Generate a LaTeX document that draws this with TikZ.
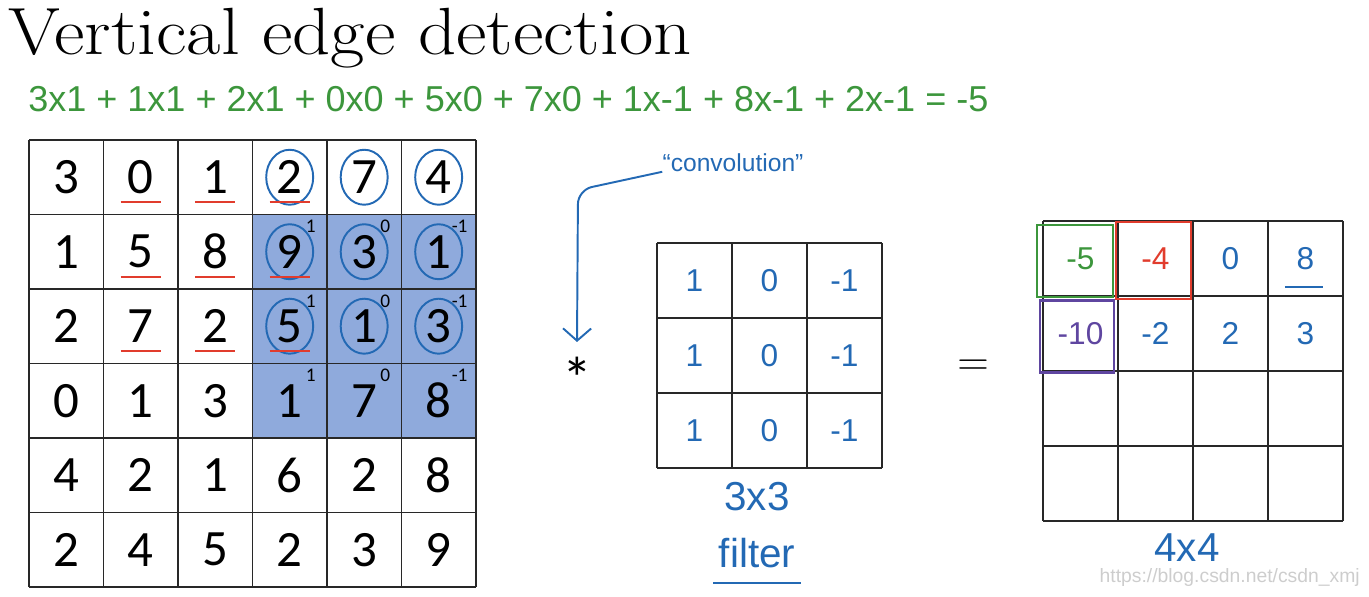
\documentclass[tikz,border=0pt]{standalone}
\usepackage{fontspec}
\newfontfamily\cellfont{Carlito}
\newfontfamily\handfont{Liberation Sans}
\usetikzlibrary{arrows.meta, positioning, calc}
\definecolor{penblue}{RGB}{35,105,180}
\definecolor{pengreen}{RGB}{60,150,60}
\definecolor{penred}{RGB}{225,60,45}
\definecolor{penpurple}{RGB}{95,70,160}
\definecolor{patchblue}{RGB}{143,170,220}
\definecolor{gridline}{RGB}{40,40,40}
\definecolor{watermark}{RGB}{205,205,205}

\begin{document}
\begin{tikzpicture}[x=0.02cm, y=-0.02cm,
  num/.style={font=\cellfont\fontsize{29}{30}\selectfont, text=black, inner sep=0pt},
  wgt/.style={font=\cellfont\fontsize{11}{12}\selectfont, inner sep=0pt},
  pen/.style={font=\handfont\fontsize{18}{20}\selectfont, text=penblue, inner sep=0pt},
  caption/.style={pen, font=\handfont\fontsize{23}{24}\selectfont},
  ring/.style={draw=penblue, line width=1.1pt},
  redline/.style={draw=penred, line width=1.3pt},
  box/.style={line width=1.4pt},
  cellline/.style={draw=gridline, line width=0.8pt},
  arr/.style={-{Straight Barb[length=7pt,width=16pt]}, draw=penblue, line width=1.1pt}
]
\useasboundingbox (0,0) rectangle (1369,597);

% title and the sum
\node[anchor=base west, inner sep=0pt, font=\fontsize{38}{40}\selectfont] (title) at (8,55) {\scalebox{1.12}[1]{Vertical edge detection}};
\node[anchor=west, inner sep=0pt, text=pengreen, font=\handfont\fontsize{20.5}{22}\selectfont] (sum) at (28,99)
  {3x1 + 1x1 + 2x1 + 0x0 + 5x0 + 7x0 + 1x-1 + 8x-1 + 2x-1 = -5};

% 6x6 image
\begin{scope}[shift={(29,140)}, x=1.49cm, y=-1.49cm]
  \fill[patchblue] (3,1) rectangle (6,4);
  \foreach \i in {0,...,6} {
    \draw[cellline] (\i,0) -- (\i,6);
    \draw[cellline] (0,\i) -- (6,\i);
  }
  \foreach \row [count=\r] in {{3,0,1,2,7,4},{1,5,8,9,3,1},{2,7,2,5,1,3},{0,1,3,1,7,8},{4,2,1,6,2,8},{2,4,5,2,3,9}}
    \foreach \v [count=\c] in \row
      \node[num] (a-\r-\c) at (\c-0.5,\r-0.5) {\v};
\end{scope}

% filter weights on the shaded patch
\foreach \r in {2,3,4}
  \foreach \c/\w in {4/1,5/0,6/-1}
    \node[wgt] (w-\r-\c) at ($(a-\r-\c)+(0.42cm,0.5cm)$) {\w};

% circled entries
\foreach \r/\c in {1/4,1/5,1/6,2/4,2/5,2/6,3/4,3/5,3/6}
  \draw[ring] (a-\r-\c) ellipse [x radius=0.47cm, y radius=0.55cm];

% red underlines
\foreach \r/\c in {1/2,1/3,1/4,2/2,2/3,2/4,3/2,3/3,3/4}
  \draw[redline] ($(a-\r-\c)+(-0.4cm,-0.5cm)$) -- ++(0.8cm,0);

% 3x3 filter
\begin{scope}[shift={(657,243)}, x=1.5cm, y=-1.5cm]
  \foreach \i in {0,...,3} {
    \draw[cellline] (\i,0) -- (\i,3);
    \draw[cellline] (0,\i) -- (3,\i);
  }
  \foreach \r in {1,2,3}
    \foreach \v [count=\c] in {1,0,-1}
      \node[pen] (f-\r-\c) at (\c-0.5,\r-0.5) {\v};
\end{scope}
\node[caption] (size3) at (757,497) {3x3};
\node[caption] (filt) at (757,553) {filter};
\draw[penblue, line width=1.2pt] ($(filt.south west)+(-0.1cm,-0.3cm)$) -- ($(filt.south east)+(0.1cm,-0.3cm)$);

% operators
\node[inner sep=0pt, font=\cellfont\fontsize{34}{34}\selectfont] (star) at (577,378) {*};
\node[inner sep=0pt, font=\fontsize{34}{34}\selectfont] (eq) at (973,368) {$=$};

% convolution note
\node[pen, font=\handfont\fontsize{14}{16}\selectfont] (conv) at (733,163) {“convolution”};
\coordinate (bend) at (578,190);
\coordinate (tip) at (577,342);
\draw[arr, rounded corners=8pt] (conv.base west) -- (bend) -- (tip);

% 4x4 output
\begin{scope}[shift={(1043,221)}, x=1.5cm, y=-1.5cm]
  \foreach \i in {0,...,4} {
    \draw[cellline] (\i,0) -- (\i,4);
    \draw[cellline] (0,\i) -- (4,\i);
  }
  \node[pen, text=pengreen] (o-1-1) at (0.5,0.5) {-5};
  \node[pen, text=penred] (o-1-2) at (1.5,0.5) {-4};
  \node[pen] (o-1-3) at (2.5,0.5) {0};
  \node[pen] (o-1-4) at (3.5,0.5) {8};
  \node[pen, text=penpurple] (o-2-1) at (0.5,1.5) {-10};
  \node[pen] (o-2-2) at (1.5,1.5) {-2};
  \node[pen] (o-2-3) at (2.5,1.5) {2};
  \node[pen] (o-2-4) at (3.5,1.5) {3};
\end{scope}
\draw[box, draw=pengreen] ($(o-1-1)+(-0.87cm,0.67cm)$) rectangle ($(o-1-1)+(0.65cm,-0.77cm)$);
\draw[box, draw=penred] ($(o-1-2)+(-0.79cm,0.73cm)$) rectangle ($(o-1-2)+(0.71cm,-0.81cm)$);
\draw[box, draw=penpurple] ($(o-2-1)+(-0.81cm,0.66cm)$) rectangle ($(o-2-1)+(0.67cm,-0.78cm)$);
\draw[penblue, line width=1.1pt] ($(o-1-4)+(-0.41cm,-0.57cm)$) -- ($(o-1-4)+(0.35cm,-0.57cm)$);
\node[caption] (size4) at (1187,548) {4x4};

% watermark
\node[anchor=east, inner sep=0pt, text=watermark, font=\handfont\fontsize{11}{12}\selectfont] (url) at (1360,578) {https://blog.csdn.net/csdn\_xmj};
\end{tikzpicture}
\end{document}
